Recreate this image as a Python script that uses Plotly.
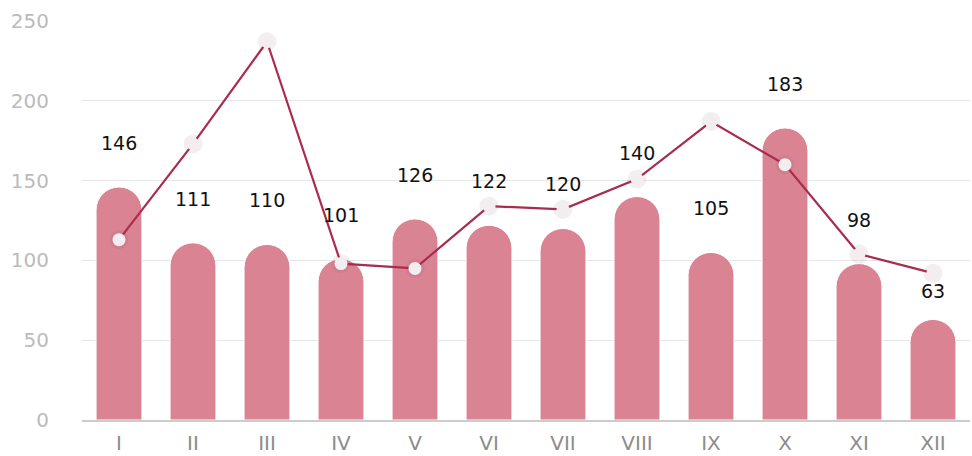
import plotly.graph_objects as go

categories = ["I", "II", "III", "IV", "V", "VI", "VII", "VIII", "IX", "X", "XI", "XII"]
bar_values = [146, 111, 110, 101, 126, 122, 120, 140, 105, 183, 98, 63]
line_values = [113, 173, 237, 98, 95, 134, 132, 151, 187, 160, 104, 92]
y_ticks = [0, 50, 100, 150, 200, 250]

FONT = "DejaVu Sans"
Y_MAX = 250
PLOT_H = 456 - 21 - 36
PX = PLOT_H / Y_MAX  # pixels per data unit
LABEL_GAP = 44

fig = go.Figure()
fig.add_trace(go.Bar(
    x=categories, y=bar_values,
    marker=dict(color="#d98393", cornerradius="50%", line=dict(color="white", width=1)),
    width=0.62, hoverinfo="skip",
))
# soft shadow under markers
fig.add_trace(go.Scatter(
    x=categories, y=line_values, mode="markers",
    marker=dict(size=19, color="rgba(120,100,105,0.10)", line=dict(width=0)), hoverinfo="skip",
))
fig.add_trace(go.Scatter(
    x=categories, y=line_values, mode="lines+markers",
    line=dict(color="#a82c4e", width=2.2),
    marker=dict(size=13, color="#f4edef", line=dict(width=0)),
))

# value labels above bars, moved below the line marker if they would collide with it
for c, v, lv in zip(categories, bar_values, line_values):
    label_px = v * PX + LABEL_GAP
    line_px = lv * PX
    shift = LABEL_GAP
    if abs(label_px - line_px) < 20:
        shift = (line_px - 18) - v * PX
    fig.add_annotation(x=c, y=v, text=str(v), showarrow=False, yshift=shift,
                       font=dict(family=FONT, size=19, color="#111"))

fig.update_layout(
    template="none",
    width=972, height=456,
    margin=dict(l=82, r=2, t=21, b=36),
    plot_bgcolor="white", paper_bgcolor="white",
    showlegend=False,
    xaxis=dict(range=[-0.5, 11.5], automargin=False, showgrid=False, showline=True,
               linecolor="#cccccc", linewidth=2, zeroline=False,
               ticks="", ticklabelstandoff=4,
               tickfont=dict(family=FONT, size=20, color="#8c8c8c")),
    yaxis=dict(range=[0, Y_MAX], automargin=False, tickvals=y_ticks, showgrid=True,
               gridcolor="#e6e6e6", gridwidth=1, zeroline=False, showline=False,
               ticks="", ticklabelstandoff=32,
               tickfont=dict(family=FONT, size=20, color="#bbbbbb")),
)
fig.write_html("out.html", config={"displayModeBar": False},
               post_script="document.body.style.margin='0';document.body.style.overflow='hidden';")
